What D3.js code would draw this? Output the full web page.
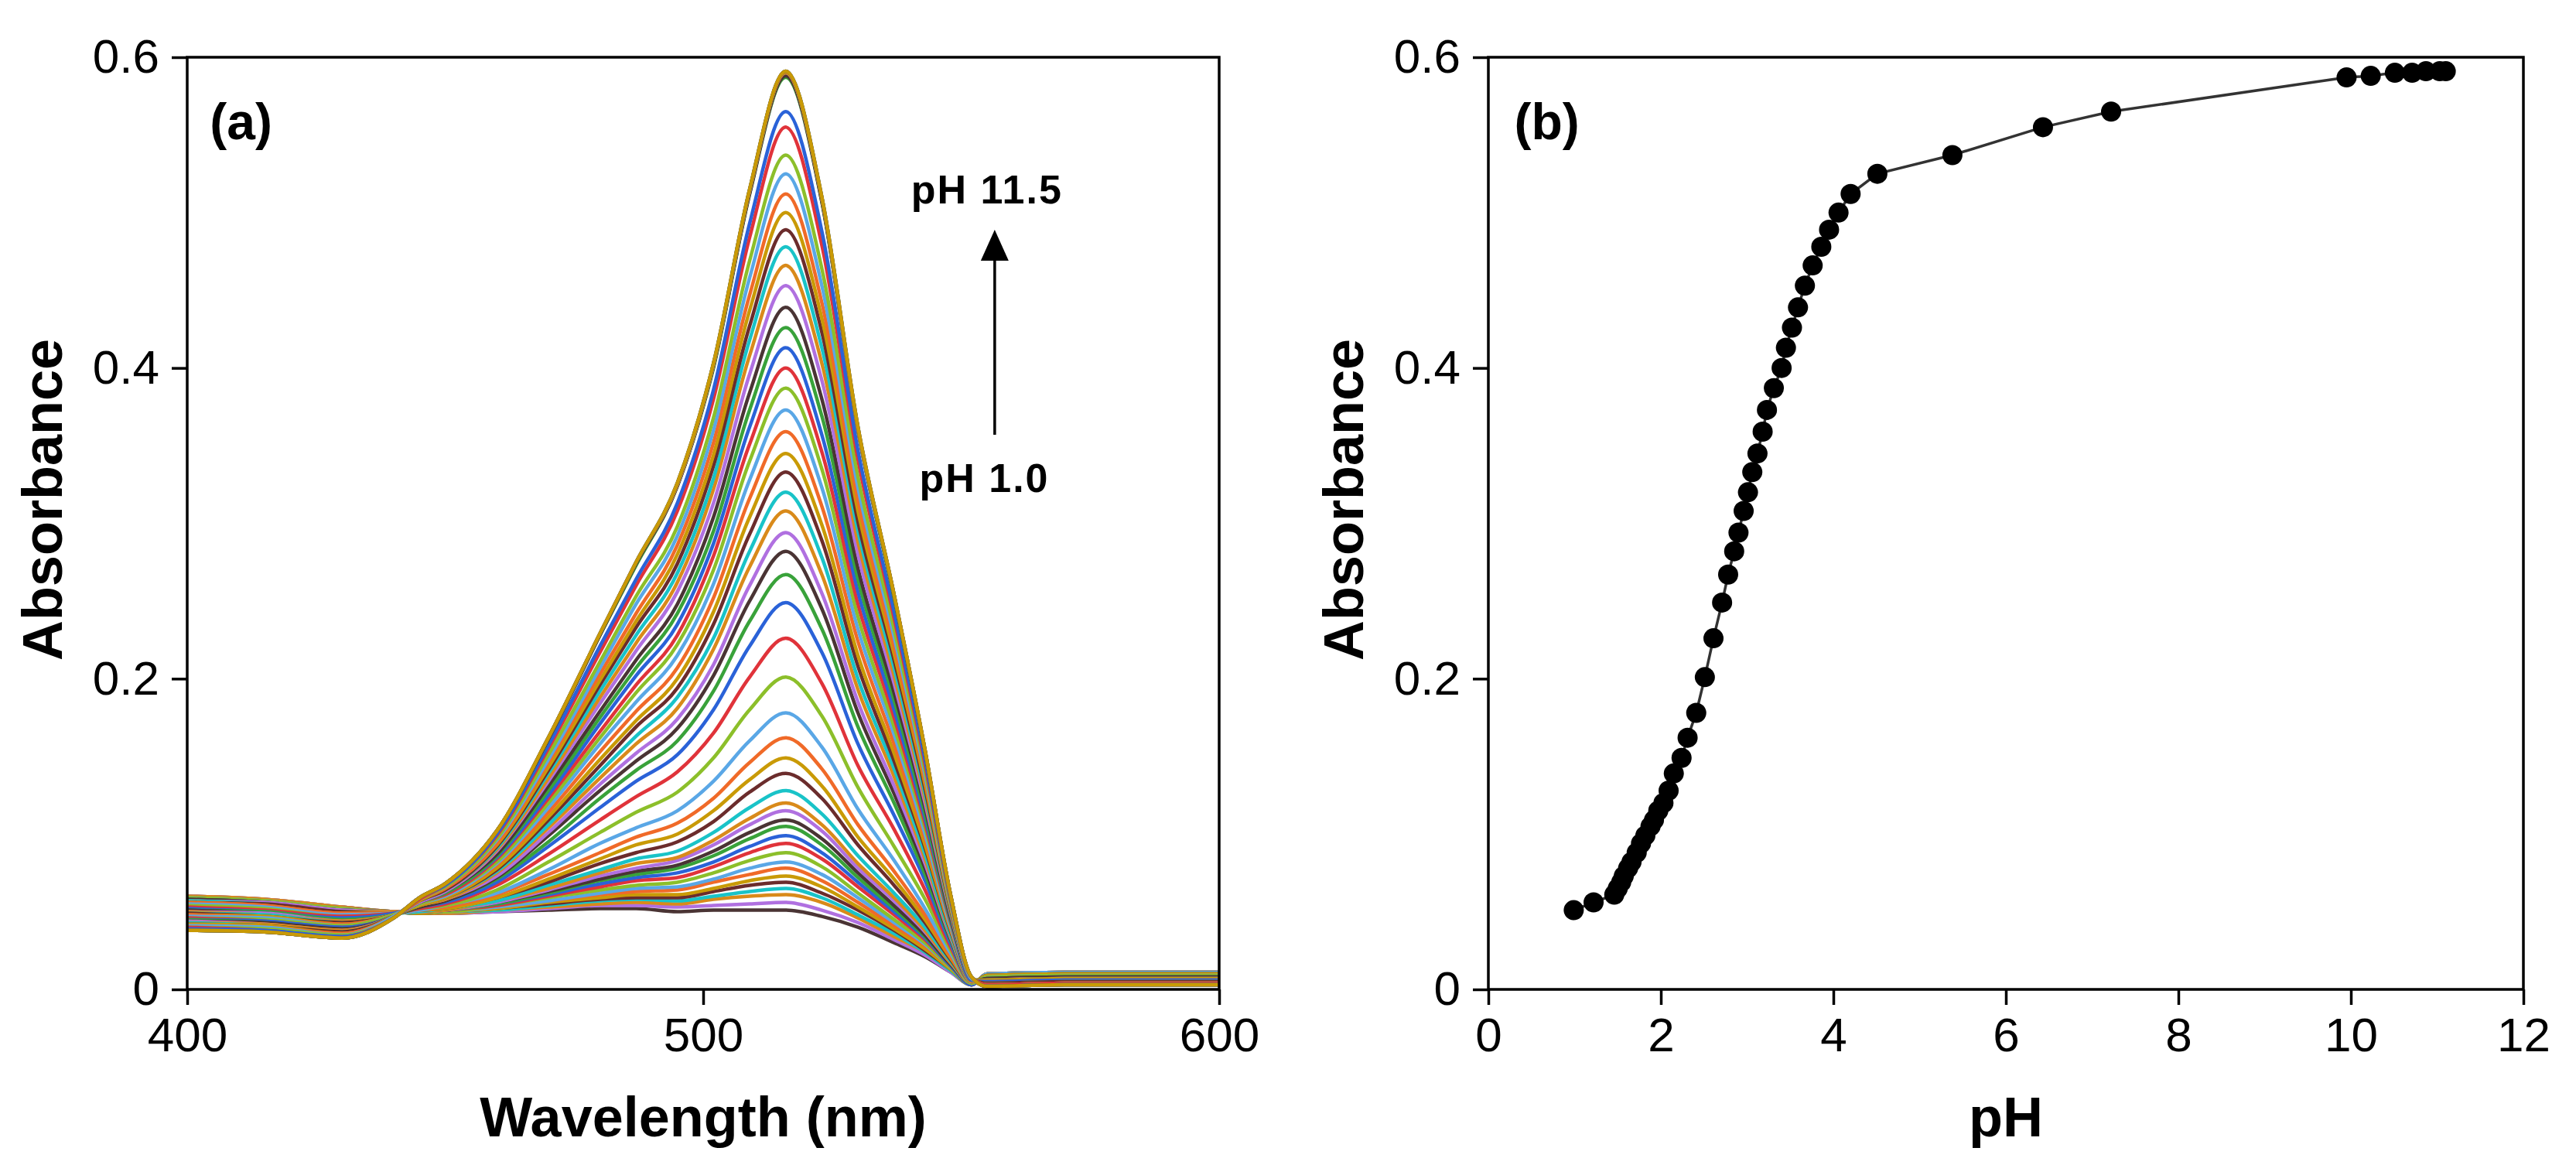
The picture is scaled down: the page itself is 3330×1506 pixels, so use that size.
<!DOCTYPE html>
<html>
<head>
<meta charset="utf-8">
<script src="https://cdn.jsdelivr.net/npm/d3@7"></script>
<style>
  body { margin: 0; background: #fff; }
  text { font-family: "Liberation Sans", Arial, sans-serif; }
</style>
</head>
<body>
<div id="chart"></div>
<script>
const FRAME_WIDTH = 3330;
const FRAME_HEIGHT = 1506;

// panel boxes (pixels)
const PANEL_A = {left: 242, right: 1576, top: 74, bottom: 1279};
const PANEL_B = {left: 1924, right: 3262, top: 74, bottom: 1279};

// ---- data ----
const wavelengths = [400, 415, 430, 440, 445, 450, 460, 470, 480, 487, 495, 502, 509, 516, 523, 530, 537, 543, 548, 552, 555, 570, 600];

// one row per spectrum, pH 1.0 (bottom) to pH 11.5 (top)
const spectra = [
  [0.060,0.058,0.053,0.050,0.049,0.049,0.050,0.051,0.052,0.052,0.050,0.051,0.051,0.051,0.047,0.040,0.030,0.021,0.011,0.003,0.010,0.011,0.011],
  [0.060,0.058,0.053,0.050,0.049,0.049,0.050,0.052,0.054,0.054,0.053,0.054,0.055,0.056,0.051,0.043,0.032,0.022,0.011,0.003,0.010,0.011,0.011],
  [0.060,0.058,0.053,0.050,0.049,0.049,0.051,0.053,0.055,0.056,0.055,0.058,0.060,0.061,0.056,0.046,0.034,0.024,0.012,0.003,0.010,0.011,0.011],
  [0.059,0.057,0.052,0.050,0.049,0.050,0.051,0.054,0.057,0.058,0.057,0.060,0.063,0.065,0.059,0.048,0.036,0.024,0.012,0.003,0.010,0.011,0.011],
  [0.059,0.057,0.052,0.050,0.049,0.050,0.052,0.055,0.058,0.059,0.059,0.063,0.067,0.069,0.062,0.051,0.038,0.025,0.013,0.003,0.010,0.011,0.011],
  [0.059,0.057,0.052,0.050,0.049,0.050,0.052,0.056,0.059,0.061,0.061,0.065,0.070,0.073,0.066,0.053,0.039,0.026,0.013,0.003,0.010,0.011,0.011],
  [0.059,0.057,0.052,0.050,0.050,0.050,0.053,0.057,0.061,0.063,0.064,0.069,0.074,0.078,0.070,0.056,0.041,0.028,0.014,0.003,0.010,0.011,0.011],
  [0.059,0.057,0.052,0.050,0.050,0.050,0.053,0.057,0.062,0.065,0.066,0.071,0.078,0.082,0.074,0.059,0.043,0.029,0.014,0.003,0.010,0.011,0.011],
  [0.059,0.057,0.052,0.050,0.050,0.050,0.054,0.059,0.064,0.067,0.069,0.075,0.083,0.088,0.079,0.062,0.045,0.030,0.014,0.003,0.009,0.010,0.010],
  [0.058,0.056,0.051,0.050,0.050,0.051,0.054,0.060,0.066,0.070,0.072,0.079,0.088,0.094,0.084,0.066,0.048,0.032,0.015,0.003,0.009,0.010,0.010],
  [0.058,0.056,0.051,0.050,0.050,0.051,0.055,0.061,0.068,0.072,0.075,0.082,0.092,0.099,0.088,0.069,0.050,0.033,0.015,0.003,0.009,0.010,0.010],
  [0.058,0.056,0.051,0.050,0.050,0.051,0.055,0.062,0.070,0.074,0.078,0.086,0.097,0.105,0.093,0.072,0.052,0.034,0.016,0.004,0.009,0.010,0.010],
  [0.058,0.056,0.051,0.050,0.050,0.051,0.056,0.063,0.071,0.076,0.080,0.089,0.101,0.109,0.097,0.075,0.054,0.035,0.016,0.004,0.009,0.010,0.010],
  [0.057,0.056,0.051,0.050,0.050,0.051,0.056,0.064,0.073,0.078,0.083,0.093,0.106,0.115,0.102,0.078,0.057,0.037,0.017,0.004,0.009,0.010,0.010],
  [0.057,0.055,0.050,0.050,0.050,0.051,0.057,0.065,0.075,0.081,0.085,0.096,0.110,0.120,0.106,0.081,0.059,0.038,0.017,0.004,0.009,0.010,0.010],
  [0.057,0.055,0.050,0.049,0.050,0.052,0.057,0.067,0.077,0.084,0.089,0.101,0.117,0.128,0.113,0.086,0.062,0.040,0.018,0.004,0.009,0.010,0.010],
  [0.056,0.055,0.050,0.049,0.051,0.052,0.059,0.069,0.081,0.088,0.095,0.108,0.127,0.139,0.123,0.093,0.067,0.043,0.019,0.004,0.009,0.010,0.010],
  [0.056,0.054,0.049,0.049,0.051,0.052,0.059,0.071,0.084,0.093,0.100,0.115,0.135,0.149,0.131,0.098,0.071,0.045,0.020,0.004,0.009,0.010,0.010],
  [0.056,0.054,0.049,0.049,0.051,0.053,0.061,0.074,0.088,0.098,0.107,0.123,0.146,0.162,0.142,0.106,0.076,0.048,0.021,0.004,0.008,0.009,0.009],
  [0.055,0.053,0.048,0.049,0.051,0.054,0.062,0.077,0.094,0.104,0.115,0.134,0.160,0.178,0.156,0.116,0.083,0.052,0.023,0.004,0.008,0.009,0.009],
  [0.054,0.052,0.047,0.049,0.052,0.054,0.064,0.082,0.101,0.114,0.127,0.149,0.180,0.201,0.176,0.130,0.092,0.058,0.025,0.004,0.008,0.009,0.009],
  [0.053,0.051,0.047,0.049,0.052,0.055,0.067,0.087,0.109,0.124,0.140,0.165,0.201,0.226,0.197,0.144,0.103,0.064,0.027,0.005,0.007,0.008,0.008],
  [0.052,0.050,0.046,0.049,0.053,0.056,0.069,0.092,0.117,0.134,0.151,0.180,0.221,0.249,0.217,0.158,0.112,0.070,0.029,0.005,0.007,0.008,0.008],
  [0.051,0.050,0.045,0.048,0.053,0.057,0.071,0.095,0.123,0.141,0.160,0.192,0.237,0.267,0.232,0.169,0.120,0.074,0.031,0.005,0.007,0.008,0.008],
  [0.051,0.049,0.044,0.048,0.053,0.057,0.072,0.099,0.128,0.147,0.168,0.202,0.250,0.282,0.245,0.178,0.126,0.078,0.032,0.005,0.007,0.008,0.008],
  [0.050,0.049,0.044,0.048,0.054,0.058,0.073,0.101,0.132,0.152,0.174,0.209,0.260,0.294,0.255,0.185,0.131,0.081,0.033,0.005,0.006,0.007,0.007],
  [0.050,0.048,0.044,0.048,0.054,0.058,0.075,0.104,0.136,0.158,0.181,0.219,0.272,0.308,0.267,0.193,0.137,0.084,0.034,0.005,0.006,0.007,0.007],
  [0.049,0.048,0.043,0.048,0.054,0.059,0.076,0.106,0.140,0.163,0.188,0.226,0.282,0.320,0.278,0.200,0.142,0.087,0.035,0.006,0.006,0.007,0.007],
  [0.049,0.047,0.043,0.048,0.054,0.059,0.077,0.109,0.144,0.169,0.194,0.235,0.293,0.333,0.289,0.208,0.147,0.091,0.037,0.006,0.006,0.007,0.007],
  [0.048,0.047,0.042,0.048,0.054,0.059,0.078,0.111,0.148,0.173,0.200,0.243,0.304,0.345,0.299,0.215,0.152,0.093,0.038,0.006,0.006,0.007,0.007],
  [0.048,0.046,0.042,0.048,0.055,0.060,0.080,0.114,0.153,0.179,0.207,0.252,0.316,0.359,0.311,0.224,0.158,0.097,0.039,0.006,0.005,0.006,0.006],
  [0.047,0.046,0.041,0.048,0.055,0.060,0.081,0.117,0.158,0.185,0.215,0.261,0.328,0.373,0.323,0.232,0.164,0.100,0.040,0.006,0.005,0.006,0.006],
  [0.046,0.045,0.041,0.048,0.055,0.061,0.082,0.120,0.162,0.191,0.222,0.270,0.340,0.387,0.335,0.240,0.169,0.104,0.042,0.006,0.005,0.006,0.006],
  [0.046,0.044,0.040,0.047,0.056,0.061,0.084,0.123,0.166,0.196,0.228,0.279,0.351,0.400,0.346,0.248,0.175,0.107,0.043,0.006,0.005,0.006,0.006],
  [0.045,0.044,0.040,0.047,0.056,0.062,0.085,0.125,0.171,0.202,0.235,0.287,0.362,0.413,0.357,0.256,0.180,0.110,0.044,0.006,0.005,0.006,0.006],
  [0.045,0.043,0.039,0.047,0.056,0.062,0.086,0.128,0.175,0.207,0.242,0.295,0.373,0.426,0.369,0.264,0.186,0.113,0.045,0.007,0.004,0.005,0.005],
  [0.044,0.043,0.039,0.047,0.056,0.063,0.087,0.131,0.179,0.212,0.248,0.304,0.384,0.439,0.380,0.271,0.191,0.117,0.046,0.007,0.004,0.005,0.005],
  [0.044,0.042,0.038,0.047,0.056,0.063,0.089,0.134,0.184,0.218,0.256,0.313,0.396,0.453,0.392,0.280,0.197,0.120,0.048,0.007,0.004,0.005,0.005],
  [0.043,0.042,0.038,0.047,0.057,0.064,0.090,0.136,0.188,0.223,0.262,0.322,0.408,0.466,0.403,0.288,0.202,0.123,0.049,0.007,0.004,0.005,0.005],
  [0.043,0.041,0.037,0.047,0.057,0.064,0.091,0.139,0.192,0.228,0.268,0.329,0.418,0.478,0.413,0.295,0.207,0.126,0.050,0.007,0.004,0.005,0.005],
  [0.042,0.041,0.037,0.047,0.057,0.064,0.092,0.141,0.196,0.233,0.274,0.337,0.427,0.489,0.423,0.301,0.212,0.129,0.051,0.007,0.004,0.005,0.005],
  [0.042,0.041,0.036,0.047,0.057,0.065,0.093,0.143,0.199,0.237,0.280,0.344,0.437,0.500,0.432,0.308,0.216,0.132,0.052,0.007,0.003,0.004,0.004],
  [0.041,0.040,0.036,0.047,0.058,0.065,0.094,0.146,0.203,0.242,0.286,0.352,0.447,0.512,0.442,0.315,0.221,0.135,0.053,0.007,0.003,0.004,0.004],
  [0.041,0.040,0.035,0.047,0.058,0.066,0.096,0.148,0.207,0.248,0.292,0.360,0.458,0.525,0.453,0.323,0.227,0.138,0.054,0.007,0.003,0.004,0.004],
  [0.040,0.039,0.035,0.046,0.058,0.066,0.097,0.151,0.211,0.253,0.298,0.368,0.469,0.537,0.464,0.330,0.232,0.141,0.055,0.008,0.003,0.004,0.004],
  [0.040,0.038,0.034,0.046,0.058,0.067,0.099,0.155,0.217,0.260,0.308,0.380,0.484,0.555,0.479,0.341,0.239,0.145,0.057,0.008,0.003,0.004,0.004],
  [0.039,0.038,0.034,0.046,0.059,0.067,0.100,0.157,0.221,0.264,0.313,0.386,0.493,0.565,0.488,0.347,0.243,0.148,0.058,0.008,0.002,0.003,0.003],
  [0.038,0.037,0.033,0.046,0.059,0.068,0.102,0.161,0.228,0.273,0.324,0.400,0.512,0.587,0.507,0.360,0.252,0.153,0.060,0.008,0.002,0.003,0.003],
  [0.038,0.037,0.033,0.046,0.059,0.068,0.102,0.161,0.228,0.274,0.324,0.401,0.512,0.588,0.507,0.360,0.253,0.153,0.060,0.008,0.002,0.003,0.003],
  [0.038,0.037,0.033,0.046,0.059,0.068,0.102,0.162,0.229,0.275,0.325,0.402,0.514,0.590,0.509,0.361,0.254,0.154,0.060,0.008,0.002,0.003,0.003],
  [0.038,0.037,0.033,0.046,0.059,0.068,0.102,0.162,0.229,0.275,0.325,0.402,0.514,0.590,0.509,0.361,0.254,0.154,0.060,0.008,0.002,0.003,0.003],
  [0.038,0.037,0.033,0.046,0.059,0.068,0.102,0.162,0.229,0.275,0.326,0.403,0.515,0.591,0.510,0.362,0.254,0.154,0.060,0.008,0.002,0.003,0.003],
  [0.038,0.037,0.033,0.046,0.059,0.068,0.102,0.162,0.229,0.275,0.326,0.403,0.515,0.591,0.510,0.362,0.254,0.154,0.060,0.008,0.002,0.003,0.003],
  [0.038,0.037,0.033,0.046,0.059,0.068,0.102,0.162,0.229,0.275,0.326,0.403,0.515,0.591,0.510,0.362,0.254,0.154,0.060,0.008,0.002,0.003,0.003]
];

// panel (b): absorbance at the band maximum vs pH
const phValues = [0.99, 1.22, 1.46, 1.50, 1.54, 1.57, 1.62, 1.66, 1.72, 1.77, 1.82, 1.88, 1.92, 1.97, 2.03, 2.09,
  2.15, 2.24, 2.31, 2.41, 2.51, 2.61, 2.71, 2.78, 2.85, 2.90, 2.96, 3.01, 3.06, 3.12, 3.18, 3.23, 3.31, 3.40,
  3.45, 3.52, 3.59, 3.67, 3.76, 3.86, 3.95, 4.06, 4.20, 4.51, 5.38, 6.43, 7.22, 9.95, 10.23, 10.51, 10.71, 10.87, 11.03, 11.10];
const peakAbs = [0.051, 0.056, 0.061, 0.065, 0.069, 0.073, 0.078, 0.082, 0.088, 0.094, 0.099, 0.105, 0.109, 0.115, 0.120, 0.128,
  0.139, 0.149, 0.162, 0.178, 0.201, 0.226, 0.249, 0.267, 0.282, 0.294, 0.308, 0.320, 0.333, 0.345, 0.359, 0.373, 0.387, 0.400,
  0.413, 0.426, 0.439, 0.453, 0.466, 0.478, 0.489, 0.500, 0.512, 0.525, 0.537, 0.555, 0.565, 0.587, 0.588, 0.590, 0.590, 0.591, 0.591, 0.591];

const yTickValues = [0, 0.2, 0.4, 0.6];
const xTickValuesA = [400, 500, 600];
const xTickValuesB = [0, 2, 4, 6, 8, 10, 12];

// line colours, cycled from the top spectrum downwards
const lineColors = ["#c99a06", "#6b2c2c", "#19c3c8", "#d98a1a", "#b070e0", "#4a3434", "#39a23a", "#2a62d8",
                    "#e0333a", "#8cbf2a", "#5aa7e6", "#f06a28"];

const SVG = d3.select("#chart")
  .append("svg")
    .attr("width", FRAME_WIDTH)
    .attr("height", FRAME_HEIGHT)
    .style("background", "#fff");

const Y_SCALE_A = d3.scaleLinear().domain([0, 0.6]).range([PANEL_A.bottom, PANEL_A.top]);
const Y_SCALE_B = d3.scaleLinear().domain([0, 0.6]).range([PANEL_B.bottom, PANEL_B.top]);
const X_SCALE_A = d3.scaleLinear().domain([400, 600]).range([PANEL_A.left, PANEL_A.right]);
const X_SCALE_B = d3.scaleLinear().domain([0, 12]).range([PANEL_B.left, PANEL_B.right]);

const yFormat = d => d === 0 ? "0" : d3.format(".1f")(d);

function drawAxes(panel, xScale, yScale, xTicks) {
  const xAxis = SVG.append("g")
      .attr("transform", "translate(0," + panel.bottom + ")")
      .call(d3.axisBottom(xScale).tickValues(xTicks).tickSize(20).tickSizeOuter(0).tickPadding(16).tickFormat(d3.format("d")));
  const yAxis = SVG.append("g")
      .attr("transform", "translate(" + panel.left + ",0)")
      .call(d3.axisLeft(yScale).tickValues(yTickValues).tickSize(20).tickSizeOuter(0).tickPadding(16).tickFormat(yFormat));
  [xAxis, yAxis].forEach(ax => {
    ax.select(".domain").remove();
    ax.selectAll(".tick line").attr("stroke", "#000").attr("stroke-width", 3.5);
    ax.selectAll(".tick text")
      .attr("fill", "#000")
      .attr("font-size", 62)
      .attr("font-family", "'Liberation Sans', Arial, sans-serif");
  });

  // box around the plot
  SVG.append("rect")
    .attr("x", panel.left)
    .attr("y", panel.top)
    .attr("width", panel.right - panel.left)
    .attr("height", panel.bottom - panel.top)
    .attr("fill", "none")
    .attr("stroke", "#000")
    .attr("stroke-width", 3.5);
}

// ---------- panel (a): spectra ----------
SVG.append("clipPath")
    .attr("id", "clipA")
  .append("rect")
    .attr("x", PANEL_A.left)
    .attr("y", PANEL_A.top)
    .attr("width", PANEL_A.right - PANEL_A.left)
    .attr("height", PANEL_A.bottom - PANEL_A.top);

const spectrumLine = d3.line()
  .x((d, i) => X_SCALE_A(wavelengths[i]))
  .y(d => Y_SCALE_A(d))
  .curve(d3.curveMonotoneX);

const nSpectra = spectra.length;
SVG.append("g")
    .attr("clip-path", "url(#clipA)")
  .selectAll("path")
  .data(spectra)
  .enter()
  .append("path")
    .attr("d", d => spectrumLine(d))
    .attr("fill", "none")
    .attr("stroke", (d, i) => lineColors[(nSpectra - 1 - i) % lineColors.length])
    .attr("stroke-width", 4.5)
    .attr("stroke-linejoin", "round");

drawAxes(PANEL_A, X_SCALE_A, Y_SCALE_A, xTickValuesA);

// annotations (a)
SVG.append("text")
  .attr("x", X_SCALE_A(404.4))
  .attr("y", Y_SCALE_A(0.547))
  .attr("font-size", 66)
  .attr("font-weight", "bold")
  .text("(a)");

SVG.append("text")
  .attr("x", X_SCALE_A(555))
  .attr("y", Y_SCALE_A(0.506))
  .attr("text-anchor", "middle")
  .attr("font-size", 52)
  .attr("font-weight", "bold")
  .attr("letter-spacing", 2)
  .text("pH 11.5");

SVG.append("text")
  .attr("x", X_SCALE_A(554.5))
  .attr("y", Y_SCALE_A(0.32))
  .attr("text-anchor", "middle")
  .attr("font-size", 52)
  .attr("font-weight", "bold")
  .attr("letter-spacing", 2)
  .text("pH 1.0");

const arrowX = X_SCALE_A(556.5);
SVG.append("line")
  .attr("x1", arrowX).attr("x2", arrowX)
  .attr("y1", Y_SCALE_A(0.357)).attr("y2", Y_SCALE_A(0.47))
  .attr("stroke", "#000")
  .attr("stroke-width", 3.5);
SVG.append("path")
  .attr("d", d3.line()([[arrowX, Y_SCALE_A(0.489)], [arrowX - 18, Y_SCALE_A(0.469)], [arrowX + 18, Y_SCALE_A(0.469)]]) + "Z")
  .attr("fill", "#000");

SVG.append("text")
  .attr("transform", "translate(80," + 646 + ") rotate(-90)")
  .attr("text-anchor", "middle")
  .attr("font-size", 72)
  .attr("font-weight", "bold")
  .text("Absorbance");

SVG.append("text")
  .attr("x", (PANEL_A.left + PANEL_A.right) / 2)
  .attr("y", 1469)
  .attr("text-anchor", "middle")
  .attr("font-size", 72)
  .attr("font-weight", "bold")
  .text("Wavelength (nm)");

// ---------- panel (b): titration curve ----------
const titration = phValues.map((p, i) => ({ph: p, abs: peakAbs[i]}));

SVG.append("path")
  .datum(titration)
  .attr("d", d3.line().x(d => X_SCALE_B(d.ph)).y(d => Y_SCALE_B(d.abs)))
  .attr("fill", "none")
  .attr("stroke", "#333")
  .attr("stroke-width", 3.5);

SVG.selectAll("circle.pt")
  .data(titration)
  .enter()
  .append("circle")
    .attr("class", "pt")
    .attr("cx", d => X_SCALE_B(d.ph))
    .attr("cy", d => Y_SCALE_B(d.abs))
    .attr("r", 13)
    .attr("fill", "#000");

drawAxes(PANEL_B, X_SCALE_B, Y_SCALE_B, xTickValuesB);

SVG.append("text")
  .attr("x", X_SCALE_B(0.3))
  .attr("y", Y_SCALE_B(0.547))
  .attr("font-size", 66)
  .attr("font-weight", "bold")
  .text("(b)");

SVG.append("text")
  .attr("transform", "translate(" + (PANEL_B.left - 162) + "," + 646 + ") rotate(-90)")
  .attr("text-anchor", "middle")
  .attr("font-size", 72)
  .attr("font-weight", "bold")
  .text("Absorbance");

SVG.append("text")
  .attr("x", (PANEL_B.left + PANEL_B.right) / 2)
  .attr("y", 1469)
  .attr("text-anchor", "middle")
  .attr("font-size", 72)
  .attr("font-weight", "bold")
  .text("pH");
</script>
</body>
</html>
